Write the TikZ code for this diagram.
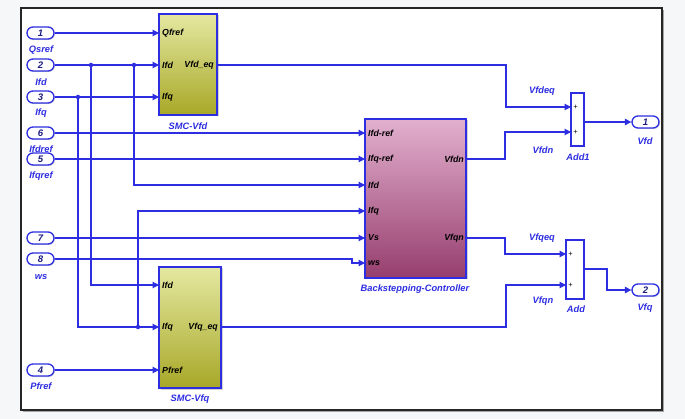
\documentclass[tikz,border=0pt]{standalone}
\usepackage{fontspec}
\setmainfont{Liberation Sans}
\usetikzlibrary{arrows.meta,shadows}
\definecolor{sig}{RGB}{45,45,225}
\definecolor{num}{RGB}{30,30,130}
\definecolor{bgc}{RGB}{245,247,249}
\definecolor{smctop}{RGB}{228,232,160}
\definecolor{smcbot}{RGB}{168,168,40}
\definecolor{bstop}{RGB}{226,176,206}
\definecolor{bsbot}{RGB}{150,62,110}
\begin{document}
\begin{tikzpicture}[x=1pt,y=-1pt,
  wire/.style={draw=sig,line width=1.1pt},
  arr/.style={wire,-{Triangle[length=6.5pt,width=6.5pt]}},
  inport/.style={draw=sig,line width=1.3pt,fill=white,rounded corners=6pt,
    minimum width=27pt,minimum height=12pt,inner sep=0pt,
    font=\bfseries\itshape\fontsize{9.5}{9.5}\selectfont,text=num,
    drop shadow={shadow xshift=1pt,shadow yshift=-1pt,opacity=0.3}},
  lbl/.style={text=sig,font=\bfseries\itshape\fontsize{9.3}{10}\selectfont,inner sep=0pt},
  plbl/.style={text=black,font=\bfseries\itshape\fontsize{8.8}{9}\selectfont,inner sep=0pt},
  smcblk/.style={draw=sig,line width=1.1pt,top color=smctop,bottom color=smcbot,
    inner sep=0pt,drop shadow={shadow xshift=1.5pt,shadow yshift=-1.5pt,opacity=0.35}},
  bsblk/.style={draw=sig,line width=1.1pt,top color=bstop,bottom color=bsbot,
    inner sep=0pt,drop shadow={shadow xshift=1.5pt,shadow yshift=-1.5pt,opacity=0.35}},
  sumblk/.style={draw=sig,line width=1.1pt,fill=white,inner sep=0pt,
    drop shadow={shadow xshift=1pt,shadow yshift=-1pt,opacity=0.3}},
  plus/.style={text=black,font=\fontsize{7.5}{7.5}\selectfont,inner sep=0pt},
  jdot/.style={circle,fill=sig,inner sep=0pt,minimum size=4.5pt}
]
\useasboundingbox (0,0) rectangle (685,419);
\fill[bgc] (0,0) rectangle (685,419);
\fill[white] (21,8) rectangle (662,410);
\draw[black!35,line width=1pt] (23,411.5) -- (663.5,411.5) -- (663.5,10);
\draw[black!85,line width=1.2pt] (21,8) rectangle (662,410);

% ---------- blocks ----------
\node[smcblk,minimum width=58pt,minimum height=101pt] (smcd) at (188,64.5) {};
\node[smcblk,minimum width=62pt,minimum height=121pt] (smcq) at (190,327.5) {};
\node[bsblk,minimum width=101pt,minimum height=159pt] (bs) at (415.5,198.5) {};
\node[sumblk,minimum width=13pt,minimum height=53pt] (add1) at (577.5,119.5) {};
\node[sumblk,minimum width=18pt,minimum height=59pt] (add) at (575,269.5) {};

% block port coordinates
\coordinate (dQ) at (159,33);   \coordinate (dIfd) at (159,65);  \coordinate (dIfq) at (159,97);
\coordinate (dOut) at (217,65);
\coordinate (qIfd) at (159,285); \coordinate (qIfq) at (159,327); \coordinate (qP) at (159,370);
\coordinate (qOut) at (221,327);
\coordinate (bIdr) at (365,133); \coordinate (bIqr) at (365,159); \coordinate (bIfd) at (365,185);
\coordinate (bIfq) at (365,211); \coordinate (bVs) at (365,238);  \coordinate (bws) at (365,263);
\coordinate (bVdn) at (466,159); \coordinate (bVqn) at (466,238);
\coordinate (a1i1) at (571,107); \coordinate (a1i2) at (571,132); \coordinate (a1o) at (584,122);
\coordinate (a2i1) at (566,254); \coordinate (a2i2) at (566,285); \coordinate (a2o) at (584,269);

% block texts
\node[plbl,anchor=west] at (162,33) {Qfref};
\node[plbl,anchor=west] at (162,65) {Ifd};
\node[plbl,anchor=west] at (162,97) {Ifq};
\node[plbl,anchor=east] at (214,65) {Vfd\_eq};
\node[plbl,anchor=west] at (162,285) {Ifd};
\node[plbl,anchor=west] at (162,327) {Ifq};
\node[plbl,anchor=west] at (162,370) {Pfref};
\node[plbl,anchor=east] at (218,327) {Vfq\_eq};
\node[plbl,anchor=west] at (368,133) {Ifd-ref};
\node[plbl,anchor=west] at (368,159) {Ifq-ref};
\node[plbl,anchor=west] at (368,185) {Ifd};
\node[plbl,anchor=west] at (368,211) {Ifq};
\node[plbl,anchor=west] at (368,238) {Vs};
\node[plbl,anchor=west] at (368,263) {ws};
\node[plbl,anchor=east] at (464,159) {Vfdn};
\node[plbl,anchor=east] at (464,238) {Vfqn};
\node[plus] at (575.5,107) {+};
\node[plus] at (575.5,132) {+};
\node[plus] at (570.5,254) {+};
\node[plus] at (570.5,285) {+};

% block names
\node[lbl] at (188,126) {SMC-Vfd};
\node[lbl] at (190,399) {SMC-Vfq};
\node[lbl] at (415,289) {Backstepping-Controller};
\node[lbl] at (578,157) {Add1};
\node[lbl] at (576,309) {Add};

% ---------- inports ----------
\node[inport] (p1) at (40.5,33) {1};
\node[inport] (p2) at (40.5,65) {2};
\node[inport] (p3) at (40.5,97) {3};
\node[inport] (p6) at (40.5,133) {6};
\node[lbl] at (41,149) {Ifdref};
\node[inport] (p5) at (40.5,159) {5};
\node[inport] (p7) at (40.5,238) {7};
\node[inport] (p8) at (40.5,259) {8};
\node[inport] (p4) at (40.5,370) {4};
\node[lbl] at (41,50) {Qsref};
\node[lbl] at (41,82) {Ifd};
\node[lbl] at (41,113) {Ifq};
\node[lbl] at (41,176) {Ifqref};
\node[lbl] at (41,277) {ws};
\node[lbl] at (41,386) {Pfref};

% ---------- outports ----------
\node[inport] (o1) at (645.5,122) {1};
\node[inport] (o2) at (645.5,290) {2};
\node[lbl] at (645,141) {Vfd};
\node[lbl] at (645,308) {Vfq};

% junction dots
\node[jdot] (j1) at (91,65) {};
\node[jdot] (j2) at (134,65) {};
\node[jdot] (j3) at (78,97) {};
\node[jdot] (j4) at (138,327) {};

% ---------- wires ----------
\draw[arr] (p1.east) -- (dQ);
\draw[arr] (p2.east) -- (dIfd);
\draw[arr] (p3.east) -- (dIfq);
\draw[arr] (j1.center) |- (qIfd);
\draw[arr] (j2.center) |- (bIfd);
\draw[wire] (j3.center) |- (j4.center);
\draw[arr] (j4.center) -- (qIfq);
\draw[arr] (j4.center) |- (bIfq);
\draw[arr] (p6.east) -- (bIdr);
\draw[arr] (p5.east) -- (bIqr);
\draw[arr] (p7.east) -- (bVs);
\draw[arr] (p8.east) -| (352,263) -- (bws);
\draw[arr] (p4.east) -- (qP);

\draw[arr] (dOut) -| (506,107) -- (a1i1);
\draw[arr] (bVdn) -| (505,132) -- (a1i2);
\draw[arr] (bVqn) -| (505,254) -- (a2i1);
\draw[arr] (qOut) -| (506,285) -- (a2i2);
\draw[arr] (a1o) -- (o1.west);
\draw[arr] (a2o) -| (607,290) -- (o2.west);

\node[lbl] at (542,91) {Vfdeq};
\node[lbl] at (543,150) {Vfdn};
\node[lbl] at (542,238) {Vfqeq};
\node[lbl] at (543,301) {Vfqn};
\end{tikzpicture}
\end{document}
